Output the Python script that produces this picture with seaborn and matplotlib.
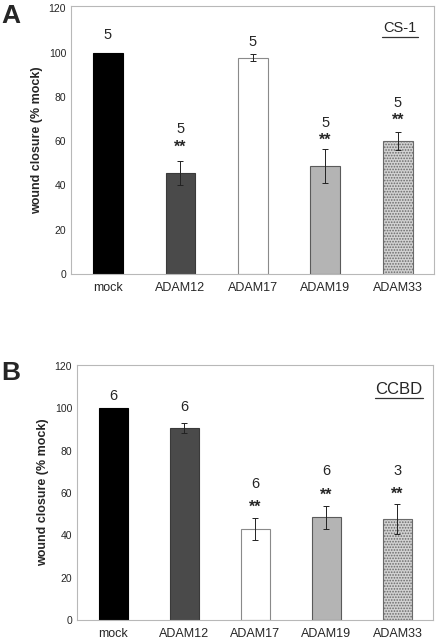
import matplotlib
matplotlib.use("Agg")
import matplotlib.pyplot as plt
import seaborn as sns
import pandas as pd
import numpy as np

sns.set_style("white")
plt.rcParams['font.family'] = ['Liberation Sans', 'DejaVu Sans']
plt.rcParams['hatch.color'] = '#9a9a9a'
plt.rcParams['hatch.linewidth'] = 0.8

categories = ["mock", "ADAM12", "ADAM17", "ADAM19", "ADAM33"]

# Panel A (CS-1)
a_values = [100, 45.5, 97.7, 48.8, 60.0]
a_err = [0, 5.5, 1.5, 7.7, 3.9]
a_n = ["5", "5", "5", "5", "5"]
a_n_y = [107.8, 65.4, 104.8, 68.0, 77.0]
a_stars = ["", "**", "", "**", "**"]
a_stars_y = [0, 57.4, 0, 60.4, 69.2]

# Panel B (CCBD)
b_values = [100, 90.8, 42.8, 48.5, 47.6]
b_err = [0, 2.2, 5.2, 5.4, 7.0]
b_n = ["6", "6", "6", "6", "3"]
b_n_y = [106.0, 100.5, 64.2, 70.5, 70.5]
b_stars = ["", "", "**", "**", "**"]
b_stars_y = [0, 0, 53.2, 58.7, 59.5]

face = ["#000000", "#4a4a4a", "#ffffff", "#b4b4b4", "#d2d2d2"]
edge = ["#000000", "#3a3a3a", "#8a8a8a", "#5a5a5a", "#6a6a6a"]
hatches = ["", "", "", "", "......"]

fig = plt.figure(figsize=(4.36, 6.39), dpi=100)
axA = fig.add_axes([71/436, 1-274/639, (434-71)/436, (274-6)/639])
axB = fig.add_axes([77/436, 1-620/639, (433-77)/436, (620-365)/639])


def draw(ax, values, err, n, n_y, stars, stars_y, title, title_size,
         title_y, ul, letter, ytop, letter_y):
    df = pd.DataFrame({"cat": categories, "val": values})
    sns.barplot(data=df, x="cat", y="val", hue="cat", palette=face,
                width=0.41, ax=ax, legend=False, errorbar=None, saturation=1)
    for i, p in enumerate(ax.patches):
        p.set_edgecolor(edge[i])
        p.set_linewidth(0.8)
        if hatches[i]:
            p.set_hatch(hatches[i])
    x = np.arange(len(categories))
    e = np.array(err)
    m = e > 0
    ax.errorbar(x[m], np.array(values)[m], yerr=e[m], fmt="none",
                ecolor="#222222", elinewidth=0.7, capsize=2, capthick=0.7)
    for i in range(len(categories)):
        ax.text(i, n_y[i], n[i], ha="center", va="center", fontsize=10.5)
        if stars[i]:
            ax.text(i, stars_y[i], stars[i], ha="center", va="center",
                    fontsize=11.5, fontweight="bold")
    ax.set_xlim(-0.51, 4.5)
    ax.set_ylim(0, ytop)
    ax.set_yticks([0, 20, 40, 60, 80, 100, 120])
    ax.tick_params(axis="y", labelsize=7.5, length=0, pad=3.5)
    ax.tick_params(axis="x", labelsize=9, length=0, pad=6)
    ax.set_xlabel("")
    ax.set_ylabel("wound closure (% mock)", fontsize=9, fontweight="bold",
                  labelpad=4)
    for s in ax.spines.values():
        s.set_color("#b8b8b8")
        s.set_linewidth(0.8)
    ax.text(0.905, title_y, title, transform=ax.transAxes,
            ha="center", va="center", fontsize=title_size)
    ax.plot(ul, [title_y - 0.034, title_y - 0.034], transform=ax.transAxes,
            color="#333333", lw=0.9, clip_on=False)
    fig.text(0.003, letter_y, letter, fontsize=19, fontweight="bold",
             ha="left", va="center")


draw(axA, a_values, a_err, a_n, a_n_y, a_stars, a_stars_y, "CS-1", 10.5,
     (274-28)/268, [0.857, 0.957], "A", 121, 1-16/639)
draw(axB, b_values, b_err, b_n, b_n_y, b_stars, b_stars_y, "CCBD", 12,
     (620-389)/255, [0.838, 0.973], "B", 120.5, 1-373/639)

fig.savefig("out.png", dpi=100)
